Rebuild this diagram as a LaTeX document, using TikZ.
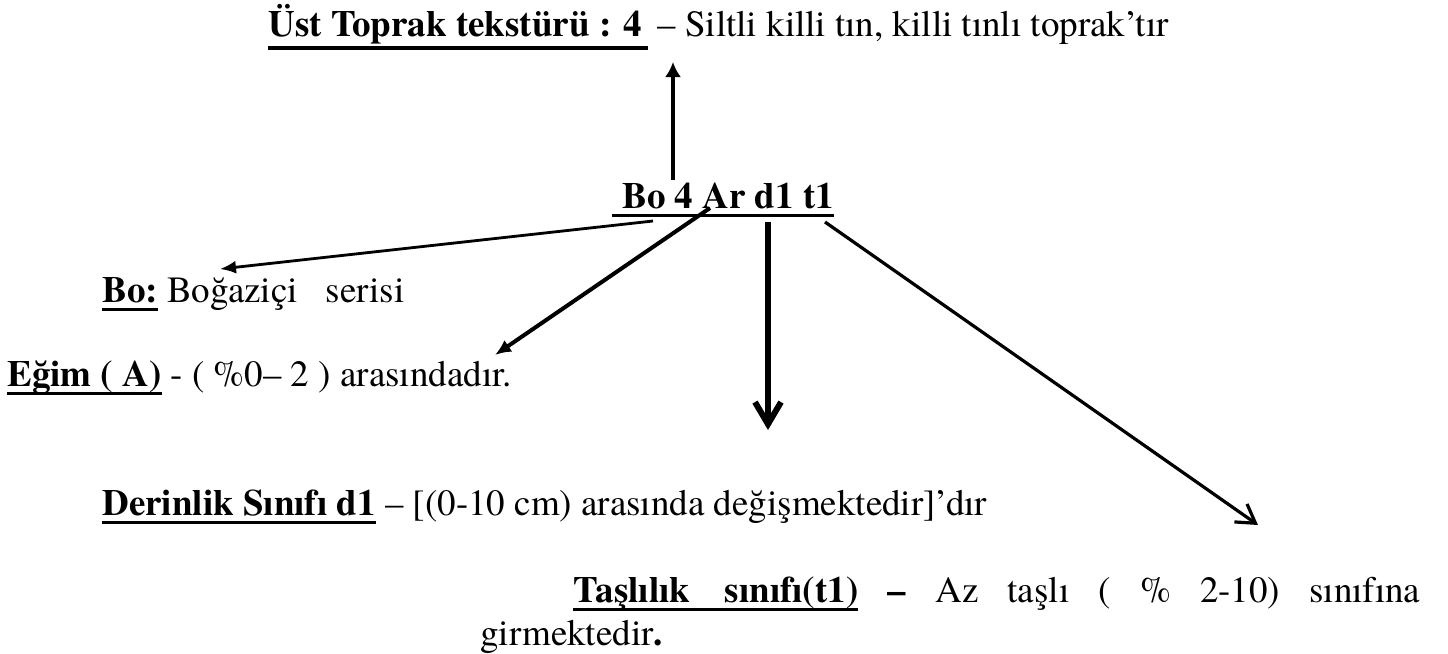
\documentclass[tikz,border=0pt]{standalone}
\usepackage{fontspec}
\setmainfont{texgyretermes}[Extension=.otf, UprightFont=*-regular, BoldFont=*-bold, ItalicFont=*-italic, BoldItalicFont=*-bolditalic]
\newsavebox{\ulsave}
\newlength{\uldp}
\setlength{\uldp}{4.4pt}
\newcommand{\ulbox}[1]{\sbox{\ulsave}{#1}\rlap{\rule[-\uldp]{\wd\ulsave}{1.6pt}}\usebox{\ulsave}}
\usepackage{tikz}
\usetikzlibrary{arrows.meta,calc}

\begin{document}
\begin{tikzpicture}[x=0.5pt,y=-0.5pt,>=Latex]
\tikzstyle{txt}=[anchor=base west, inner sep=0pt, font=\fontsize{18.5}{21.5}\selectfont]
\tikzstyle{uparr}=[line width=2pt, -{Latex[length=7.5pt,width=8pt]}]
\tikzstyle{thinarr}=[line width=1.4pt, -{Latex[length=8pt,width=6.5pt]}]
\tikzstyle{midarr}=[line width=2pt, -{Latex[length=8pt,width=7pt]}]
\tikzstyle{downarr}=[line width=3pt, -{Straight Barb[length=11pt,width=13pt]}]
\tikzstyle{openarr}=[line width=1.6pt, -{Straight Barb[length=9pt,width=11pt]}]
\useasboundingbox (0,0) rectangle (1448,654);

\node[txt] (top) at (268,36) {\setlength{\uldp}{6.8pt}\ulbox{\textbf{Üst Toprak tekstürü : 4}\hspace{3pt}} – Siltli killi tın, killi tınlı toprak’tır};
\node[txt] (code) at (612,208) {\ulbox{\hspace{5pt}\textbf{Bo 4 Ar d1 t1}}};
\node[txt] (bo) at (102,302) {\ulbox{\textbf{Bo:}} Boğaziçi\ \ \ serisi};
\node[txt] (egim) at (7,386) {\ulbox{\textbf{Eğim ( A)}} - ( \%0– 2 ) arasındadır.};
\node[txt] (derin) at (102,515) {\ulbox{\textbf{Derinlik Sınıfı d1}} – [(0-10 cm) arasında değişmektedir]’dır};
\node[txt] (tasl) at (480,602) {\parbox[t]{470pt}{\hspace*{46.5pt}\ulbox{\makebox[142.5pt][s]{\textbf{Taşlılık sınıfı(t1)}}} \textbf{–} Az taşlı ( \% 2-10) sınıfına\linebreak girmektedir\textbf{.}}};

\draw[uparr] ($(code.base west)+(61,-28)$) -- ($(top.base west)+(405,26)$);
\draw[thinarr] ($(code.base west)+(41,13)$) -- ($(bo.base west)+(118,-33)$);
\draw[midarr] ($(code.base west)+(98,0)$) -- ($(egim.base west)+(488,-31)$);
\draw[downarr] ($(code.base west)+(156,14)$) -- ($(derin.base west)+(666,-85)$);
\draw[openarr] ($(code.base west)+(213,14)$) -- ($(tasl.base west)+(778,-77)$);
\end{tikzpicture}
\end{document}
